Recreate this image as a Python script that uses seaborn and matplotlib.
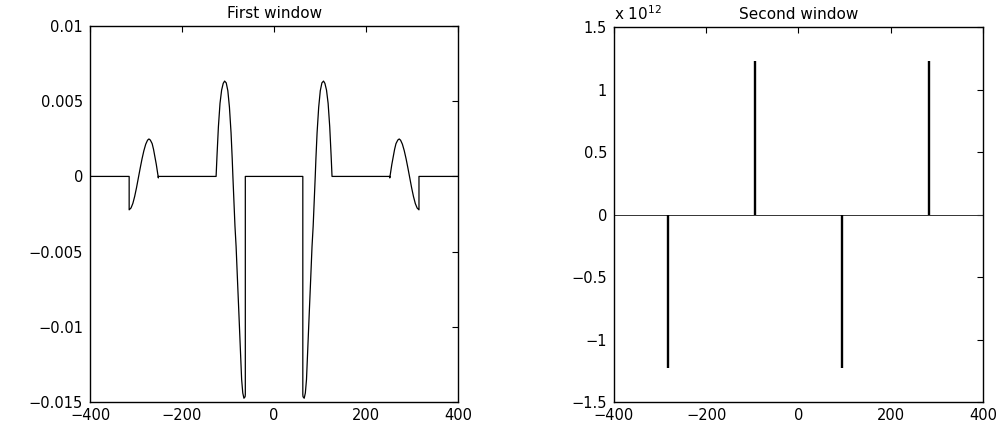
import numpy as np
import pandas as pd
import seaborn as sns
import matplotlib
matplotlib.use("Agg")
import matplotlib.pyplot as plt
from matplotlib.ticker import FuncFormatter, FixedLocator

# ---------------- data ----------------
# First window: piecewise curve (values are zero outside the lobes)
window_edges = [-400, -315, -251.5, -126, -62.5, 62.5, 126, 251.5, 315, 400]

outer_left_x = [-315, -311, -307, -303, -299, -295, -291, -287, -283, -279, -275,
                -272, -269, -265, -262, -259, -256, -253, -251.5]
outer_left_y = [-0.00222, -0.00210, -0.00180, -0.00133, -0.00075, -0.00010, 0.00055,
                0.00117, 0.00171, 0.00214, 0.00241, 0.00249, 0.00242, 0.00218,
                0.00180, 0.00130, 0.00080, 0.00020, -0.00010]

inner_left_x = [-126, -124, -121, -117.5, -114, -110.5, -107.5, -104, -100.5, -97,
                -93.5, -91, -89.5, -85, -82.5, -79.5, -76.5, -73.5, -70.5, -68,
                -65.5, -63, -62.5]
inner_left_y = [0.0, 0.00140, 0.00330, 0.00486, 0.00574, 0.00619, 0.00634, 0.00622,
                0.00570, 0.00460, 0.00290, 0.00120, 0.0, -0.00330, -0.00467, -0.00690,
                -0.00908, -0.01130, -0.01350, -0.01440, -0.01475, -0.01465, -0.01450]

inner_right_x = [62.5, 63, 65.5, 68, 70.5, 73.5, 76.5, 79.5, 82.5, 85, 89.5, 91, 93.5,
                 97, 100.5, 104, 107.5, 110.5, 114, 117.5, 121, 124, 126]
inner_right_y = [-0.01450, -0.01465, -0.01475, -0.01440, -0.01350, -0.01130, -0.00908,
                 -0.00690, -0.00467, -0.00330, 0.0, 0.00120, 0.00290, 0.00460, 0.00570,
                 0.00622, 0.00634, 0.00619, 0.00574, 0.00486, 0.00330, 0.00140, 0.0]

outer_right_x = [251.5, 253, 256, 259, 262, 265, 269, 272, 275, 279, 283, 287, 291,
                 295, 299, 303, 307, 311, 315]
outer_right_y = [-0.00010, 0.00020, 0.00080, 0.00130, 0.00180, 0.00218, 0.00242,
                 0.00249, 0.00241, 0.00214, 0.00171, 0.00117, 0.00055, -0.00010,
                 -0.00075, -0.00133, -0.00180, -0.00210, -0.00222]

# Second window: spikes on a zero baseline
spike_x = [-282, -94, 94, 282]
spike_h = [-1.23e12, 1.23e12, -1.23e12, 1.23e12]

titles = ["First window", "Second window"]
x_ticks = [-400, -200, 0, 200, 400]
y1_ticks = [-0.015, -0.01, -0.005, 0, 0.005, 0.01]
y2_ticks = [-1.5e12, -1e12, -0.5e12, 0, 0.5e12, 1e12, 1.5e12]

# ---------------- build line tables ----------------
e = window_edges
fx = ([e[0], e[1]] + outer_left_x + [e[2], e[3]] + inner_left_x + [e[4], e[5]]
      + inner_right_x + [e[6], e[7]] + outer_right_x + [e[8], e[9]])
fy = ([0, 0] + outer_left_y + [0, 0] + inner_left_y + [0, 0]
      + inner_right_y + [0, 0] + outer_right_y + [0, 0])
df1 = pd.DataFrame({"x": fx, "y": fy})

df_base = pd.DataFrame({"x": [x_ticks[0], x_ticks[-1]], "y": [0.0, 0.0]})
seg, sx, sy = [], [], []
for i, (px, h) in enumerate(zip(spike_x, spike_h)):
    seg += [i, i]
    sx += [px, px]
    sy += [0.0, h]
df_spk = pd.DataFrame({"seg": seg, "x": sx, "y": sy})

# ---------------- styling ----------------
sns.set_theme(style="white")
plt.rcParams["font.family"] = ["DejaVu Sans"]
plt.rcParams["mathtext.default"] = "regular"
plt.rcParams["axes.unicode_minus"] = True
plt.rcParams["text.color"] = "black"
plt.rcParams["axes.titlecolor"] = "black"

fig = plt.figure(figsize=(10.05, 4.26), dpi=100)
ax1 = fig.add_axes([0.0896, 0.0563, 0.3662, 0.8826])
ax2 = fig.add_axes([0.6109, 0.0563, 0.3672, 0.8803])

sns.lineplot(data=df1, x="x", y="y", ax=ax1, color="black", linewidth=0.9,
             sort=False, estimator=None)
sns.lineplot(data=df_base, x="x", y="y", ax=ax2, color="#333333", linewidth=0.7,
             sort=False, estimator=None)
sns.lineplot(data=df_spk, x="x", y="y", units="seg", ax=ax2, color="black",
             linewidth=1.7, sort=False, estimator=None, solid_capstyle="butt")

def fmt(v, scale=1.0):
    s = "%g" % (v / scale)
    return s.replace("-", "\u2212")

for ax, yt, scale, title in [(ax1, y1_ticks, 1.0, titles[0]), (ax2, y2_ticks, 1e12, titles[1])]:
    ax.set_xlim(-400, 400)
    ax.set_ylim(yt[0], yt[-1])
    ax.xaxis.set_major_locator(FixedLocator(x_ticks))
    ax.yaxis.set_major_locator(FixedLocator(yt))
    ax.xaxis.set_major_formatter(FuncFormatter(lambda v, p: fmt(v)))
    ax.yaxis.set_major_formatter(FuncFormatter(lambda v, p, s=scale: fmt(v, s)))
    ax.set_xlabel("")
    ax.set_ylabel("")
    ax.set_title(title, fontsize=11, pad=6, color="black")
    ax.tick_params(direction="in", top=True, right=True, length=4, width=0.8,
                   labelsize=10.5, colors="black")
    ax.tick_params(axis="x", pad=4)
    ax.tick_params(axis="y", pad=5)
    for sp in ax.spines.values():
        sp.set_visible(True)
        sp.set_color("black")
        sp.set_linewidth(1.0)
    ax.grid(False)

ax2.text(0.0, 1.01, "x 10$^{12}$", transform=ax2.transAxes, ha="left", va="bottom",
         fontsize=11, color="black")

fig.savefig("out.png", dpi=100)
